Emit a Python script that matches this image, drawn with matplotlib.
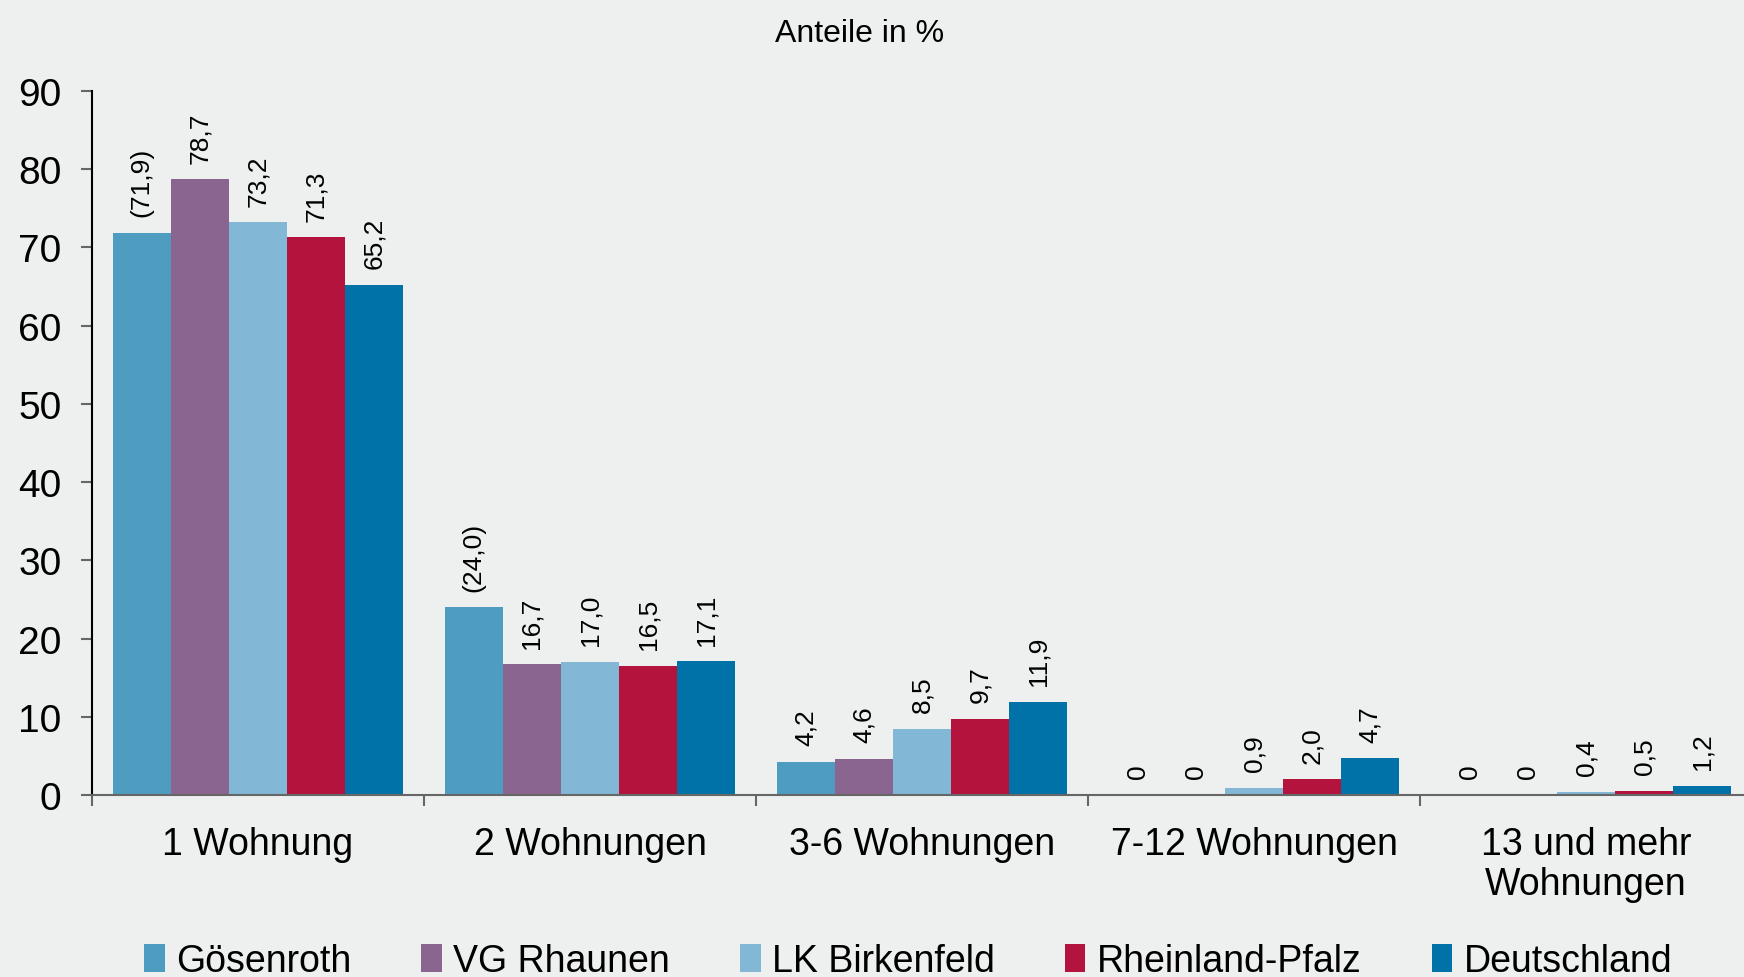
import matplotlib
matplotlib.use("Agg")
import numpy as np
import matplotlib.pyplot as plt
from matplotlib.patches import Patch

plt.rcParams['font.family'] = ['Liberation Sans', 'DejaVu Sans']

categories = ["1 Wohnung", "2 Wohnungen", "3-6 Wohnungen", "7-12 Wohnungen", "13 und mehr\nWohnungen"]
series_names = ["Gösenroth", "VG Rhaunen", "LK Birkenfeld", "Rheinland-Pfalz", "Deutschland"]

goesenroth = [71.9, 24.0, 4.2, 0, 0]
vg_rhaunen = [78.7, 16.7, 4.6, 0, 0]
lk_birkenfeld = [73.2, 17.0, 8.5, 0.9, 0.4]
rheinland_pfalz = [71.3, 16.5, 9.7, 2.0, 0.5]
deutschland = [65.2, 17.1, 11.9, 4.7, 1.2]

# Werte in Klammern (geringe Fallzahl)
goesenroth_bracket = [True, True, False, False, False]

colors = ["#4E9DC0", "#8A658F", "#82B8D5", "#B4133D", "#0072A7"]
bg = "#EEF0EF"

def fmt(v, bracket=False):
    s = "0" if v == 0 else f"{v:.1f}".replace(".", ",")
    return f"({s})" if bracket else s

series = [goesenroth, vg_rhaunen, lk_birkenfeld, rheinland_pfalz, deutschland]

fig = plt.figure(figsize=(17.44, 9.78), dpi=100, facecolor=bg)
ax = fig.add_axes([92 / 1744, 1 - 796 / 978, 1660 / 1744, 704 / 978])
ax.set_facecolor(bg)

x = np.arange(len(categories))
w = 0.175
for i, (vals, col) in enumerate(zip(series, colors)):
    pos = x + (i - 2) * w
    ax.bar(pos, vals, width=w, color=col, edgecolor="none")
    for j, (p, v) in enumerate(zip(pos, vals)):
        br = goesenroth_bracket[j] if i == 0 else False
        ax.annotate(fmt(v, br), (p, v), xytext=(0, 12), textcoords="offset points",
                    rotation=90, ha="center", va="bottom", fontsize=19)

ax.set_xlim(-0.5, 4.5)
ax.set_ylim(0, 90)
ax.set_yticks(range(0, 91, 10))
ax.tick_params(axis="y", labelsize=28, length=8, width=1.5, color="#666666", pad=14)

ax.set_xticks(x)
ax.set_xticklabels(categories, fontsize=27, linespacing=1.15)
ax.set_xticks(np.arange(-0.5, 4.6, 1), minor=True)
ax.tick_params(axis="x", which="major", length=0, pad=22)
ax.tick_params(axis="x", which="minor", length=8, width=1.5, color="#666666")

for s in ["top", "right"]:
    ax.spines[s].set_visible(False)
ax.spines["left"].set_color("black")
ax.spines["left"].set_linewidth(1.5)
ax.spines["bottom"].set_color("#666666")
ax.spines["bottom"].set_linewidth(1.5)

fig.text(860 / 1744, 1 - 34 / 978, "Anteile in %", ha="center", va="center", fontsize=23)

handles = [Patch(facecolor=c, edgecolor="none") for c in colors]
fig.legend(handles, series_names, loc="center", bbox_to_anchor=(908 / 1744, 1 - 962 / 978),
           ncol=5, frameon=False, fontsize=27, handlelength=0.55, handleheight=0.75,
           handletextpad=0.3, columnspacing=1.87)

fig.savefig("out.png", dpi=100, facecolor=bg)
